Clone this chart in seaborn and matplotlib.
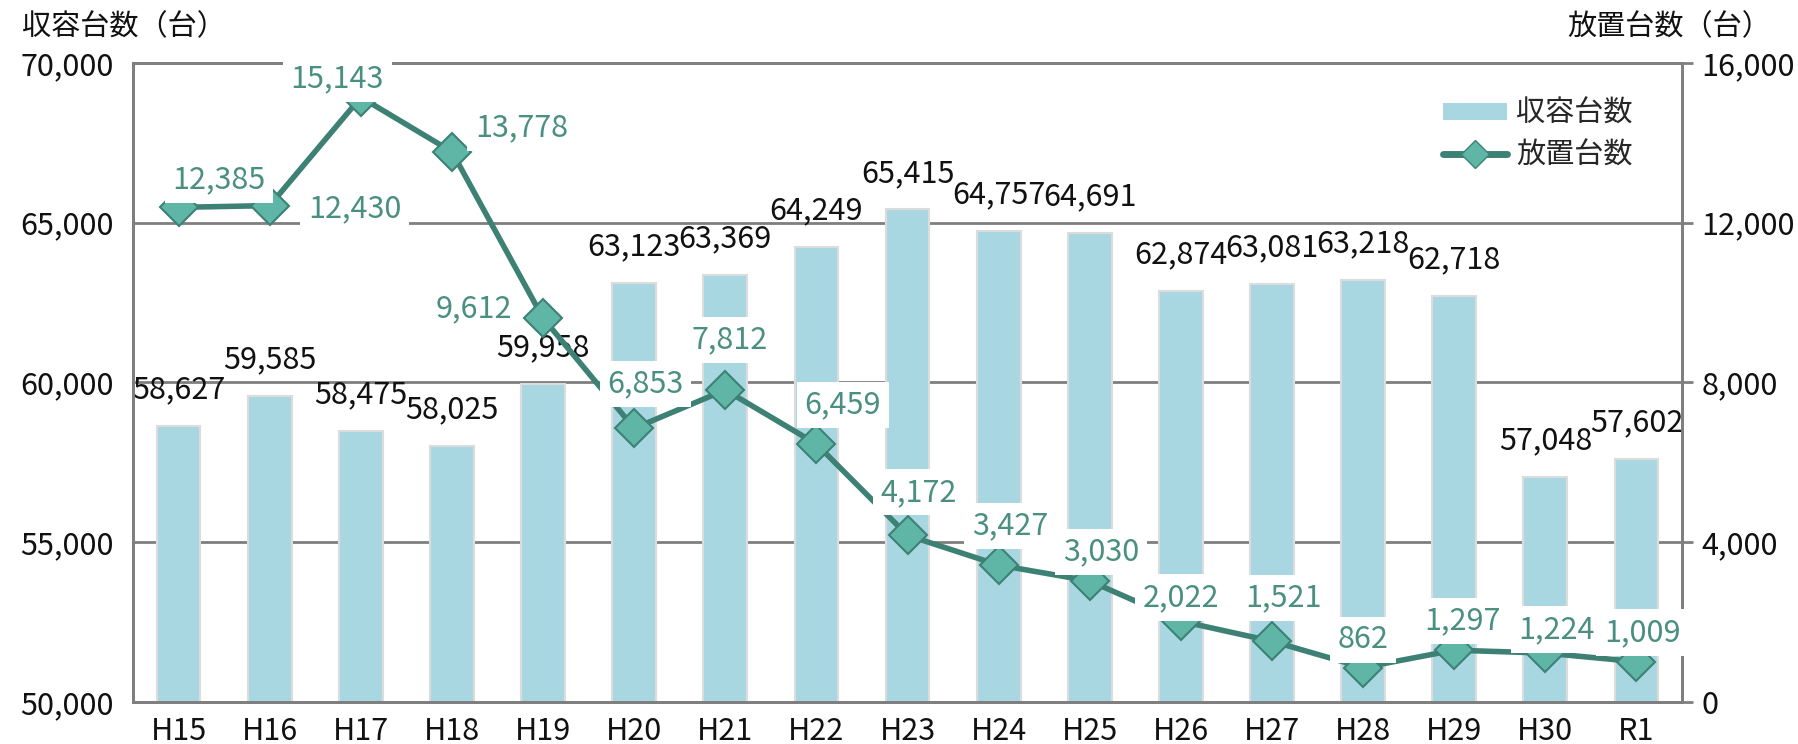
import numpy as np
import pandas as pd
import matplotlib
matplotlib.use("Agg")
import matplotlib.pyplot as plt
from matplotlib.patches import Patch
from matplotlib.lines import Line2D
from matplotlib.ticker import FuncFormatter
import seaborn as sns

# data
years = ["H15", "H16", "H17", "H18", "H19", "H20", "H21", "H22", "H23",
         "H24", "H25", "H26", "H27", "H28", "H29", "H30", "R1"]
capacity = [58627, 59585, 58475, 58025, 59958, 63123, 63369, 64249, 65415,
            64757, 64691, 62874, 63081, 63218, 62718, 57048, 57602]
abandoned = [12385, 12430, 15143, 13778, 9612, 6853, 7812, 6459, 4172,
             3427, 3030, 2022, 1521, 862, 1297, 1224, 1009]

# label offsets for the line values (points)
line_lbl_off = [(29, 20), (61, -2), (-17, 13), (50, 17), (-50, 7), (8, 32),
                (3, 36), (19, 28), (8, 31), (8, 28), (8, 21), (0, 17),
                (8, 31), (0, 20), (6, 21), (8, 17), (4, 21)]

BAR = "#a8d7e2"
LINE = "#3d8175"
MARK = "#5fb6a6"
TXT_G = "#4a8f80"
GRID = "#7f7f7f"
FONT = ["Noto Sans CJK JP", "DejaVu Sans"]

sns.set_theme(style="white")
plt.rcParams["font.family"] = FONT

df = pd.DataFrame({"year": years, "capacity": capacity, "abandoned": abandoned})

fig, ax = plt.subplots(figsize=(17.98, 7.44), dpi=100)
fig.subplots_adjust(left=0.074, right=0.9355, top=0.9153, bottom=0.0565)

sns.barplot(data=df, x="year", y="capacity", color=BAR, saturation=1,
            width=0.48, edgecolor="#dcdcdc", linewidth=1.5, ax=ax, zorder=2)
ax.set_ylim(50000, 70000)
ax.set_yticks([50000, 55000, 60000, 65000, 70000])
ax.yaxis.set_major_formatter(FuncFormatter(lambda v, p: f"{int(v):,}"))
ax.set_xlim(-0.5, len(years) - 0.5)
ax.yaxis.grid(True, color=GRID, linewidth=2, zorder=0)
ax.set_axisbelow(True)
ax.set_xlabel("")
ax.set_ylabel("")
ax.tick_params(axis="both", labelsize=22, length=0, colors="#111111")
ax.tick_params(axis="x", pad=10)
ax.tick_params(axis="y", pad=14)
for s in ax.spines.values():
    s.set_color(GRID)
    s.set_linewidth(2)

# bar value labels
for i, v in enumerate(capacity):
    ax.annotate(f"{v:,}", (i, v), xytext=(0, 26), textcoords="offset points",
                ha="center", va="center", fontsize=22, color="#111111", zorder=3)

ax2 = ax.twinx()
sns.lineplot(x=np.arange(len(years)), y=abandoned, ax=ax2, color=LINE,
             linewidth=4, marker="D", markersize=19, markerfacecolor=MARK,
             markeredgecolor=LINE, markeredgewidth=1.5, zorder=3)
ax2.set_ylim(0, 16000)
ax2.set_yticks([0, 4000, 8000, 12000, 16000])
ax2.yaxis.set_major_formatter(FuncFormatter(lambda v, p: f"{int(v):,}"))
ax2.tick_params(axis="y", labelsize=22, length=8, width=2, color=GRID,
                labelcolor="#111111", pad=6)
ax2.grid(False)
for s in ax2.spines.values():
    s.set_color(GRID)
    s.set_linewidth(2)

# line value labels
for i, v in enumerate(abandoned):
    dx, dy = line_lbl_off[i]
    ax2.annotate(f"{v:,}", (i, v), xytext=(dx, dy), textcoords="offset points",
                 ha="center", va="center", fontsize=22, color=TXT_G, zorder=5,
                 bbox=dict(boxstyle="square,pad=0.25", fc="white", ec="none"))

handles = [Patch(facecolor=BAR, edgecolor="none"),
           Line2D([], [], color=LINE, linewidth=5, marker="D", markersize=14,
                  markerfacecolor=MARK, markeredgecolor=LINE)]
ax2.legend(handles, ["収容台数", "放置台数"], loc="upper right",
           bbox_to_anchor=(0.985, 0.985), frameon=False, fontsize=21,
           handlelength=2.2, handleheight=0.5, handletextpad=0.3,
           labelspacing=0.4)

fig.text(0.012, 0.984, "収容台数（台）", fontsize=21, va="top", ha="left",
         color="#111111")
fig.text(0.985, 0.984, "放置台数（台）", fontsize=21, va="top", ha="right",
         color="#111111")

fig.savefig("out.png", dpi=100)
